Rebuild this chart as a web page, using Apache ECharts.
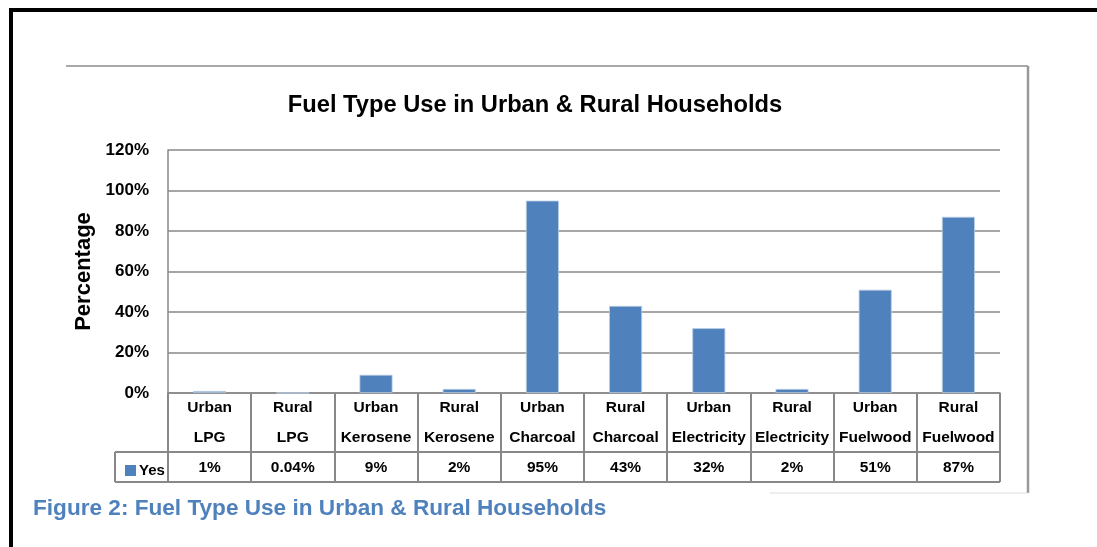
<!DOCTYPE html>
<html>
<head>
<meta charset="utf-8">
<script src="https://cdn.jsdelivr.net/npm/echarts@6/dist/echarts.min.js"></script>
<style>
  html, body { margin: 0; padding: 0; background: #fff; }
  #main { width: 1097px; height: 547px; }
</style>
</head>
<body>
<div id="main"></div>
<script>
// category names (two lines in the table), series values
var kinds = ['Urban', 'Rural', 'Urban', 'Rural', 'Urban', 'Rural', 'Urban', 'Rural', 'Urban', 'Rural'];
var fuels = ['LPG', 'LPG', 'Kerosene', 'Kerosene', 'Charcoal', 'Charcoal', 'Electricity', 'Electricity', 'Fuelwood', 'Fuelwood'];
var yesValues = [1, 0.04, 9, 2, 95, 43, 32, 2, 51, 87];
var yTicks = [0, 20, 40, 60, 80, 100, 120];

var categories = kinds.map(function (k, i) { return k + ' ' + fuels[i]; });
var font = '"Liberation Sans", Arial, sans-serif';
var gridCol = '#888888';

var chart = echarts.init(document.getElementById('main'));

// table lines under the axis (layout only)
var L = 115, R = 1000, y0 = 393, y1 = 452, y2 = 482;

chart.setOption({
  animation: false,
  title: {
    text: 'Fuel Type Use in Urban & Rural Households',
    left: 530, top: 88, textAlign: 'center',
    textStyle: { fontFamily: font, fontWeight: 'bold', fontSize: 23.7, color: '#000' }
  },
  legend: {
    data: ['Yes'],
    left: 120, top: 458,
    itemWidth: 11, itemHeight: 11, itemGap: 3,
    icon: 'rect',
    itemStyle: { borderWidth: 0 },
    textStyle: { fontFamily: font, fontWeight: 'bold', fontSize: 15, color: '#000', padding: [0, 0, 0, -2] }
  },
  grid: { left: 168, right: 97, top: 150, bottom: 154 },
  xAxis: {
    type: 'category',
    data: categories,
    axisLine: { lineStyle: { color: gridCol, width: 1.5 } },
    axisTick: { show: true, length: y2 - y0, lineStyle: { color: gridCol, width: 2 } },
    axisLabel: {
      interval: 0, margin: 0,
      fontFamily: font, fontWeight: 'bold', fontSize: 15.5, color: '#000',
      lineHeight: 30,
      formatter: function (v, i) {
        return kinds[i] + '\n' + fuels[i] + '\n' + yesValues[i] + '%';
      }
    }
  },
  yAxis: {
    type: 'value',
    min: yTicks[0], max: yTicks[yTicks.length - 1], interval: 20,
    name: 'Percentage',
    nameLocation: 'middle', nameGap: 70, nameRotate: 90,
    nameTextStyle: { fontFamily: font, fontWeight: 'bold', fontSize: 22, color: '#000' },
    axisLine: { show: true, lineStyle: { color: gridCol, width: 1.5 } },
    axisTick: { show: false },
    splitLine: { lineStyle: { color: gridCol, width: 1.5 } },
    axisLabel: {
      margin: 19, formatter: '{value}%',
      fontFamily: font, fontWeight: 'bold', fontSize: 17, color: '#000'
    }
  },
  series: [{
    name: 'Yes',
    type: 'bar',
    data: yesValues,
    barWidth: 33,
    itemStyle: { color: '#4F81BD', borderColor: '#b9cde5', borderWidth: 0.8 }
  }],
  graphic: [
    // page frame
    { type: 'rect', shape: { x: 9, y: 8, width: 1200, height: 4 }, style: { fill: '#000' } },
    { type: 'rect', shape: { x: 9, y: 8, width: 4, height: 600 }, style: { fill: '#000' } },
    // chart area frame
    { type: 'line', shape: { x1: 66, y1: 66, x2: 1028, y2: 66 }, style: { stroke: '#8c8c8c', lineWidth: 1.5 } },
    { type: 'line', shape: { x1: 1028, y1: 66, x2: 1028, y2: 493 }, style: { stroke: '#999', lineWidth: 2.5 } },
    { type: 'line', shape: { x1: 770, y1: 493, x2: 1028, y2: 493 }, style: { stroke: '#ddd', lineWidth: 1 } },
    // data table
    { type: 'line', shape: { x1: L, y1: y1, x2: R, y2: y1 }, style: { stroke: gridCol, lineWidth: 2 } },
    { type: 'line', shape: { x1: L, y1: y2, x2: R, y2: y2 }, style: { stroke: gridCol, lineWidth: 2 } },
    { type: 'line', shape: { x1: L, y1: y1, x2: L, y2: y2 }, style: { stroke: gridCol, lineWidth: 2 } },
    { type: 'line', shape: { x1: 168, y1: y0, x2: 168, y2: y2 }, style: { stroke: gridCol, lineWidth: 2 } },
    // caption
    {
      type: 'text', left: 33, top: 497,
      style: {
        text: 'Figure 2: Fuel Type Use in Urban & Rural Households',
        font: 'bold 22.6px "Liberation Sans", Arial, sans-serif', fill: '#4F81BD'
      }
    }
  ]
});
</script>
</body>
</html>
